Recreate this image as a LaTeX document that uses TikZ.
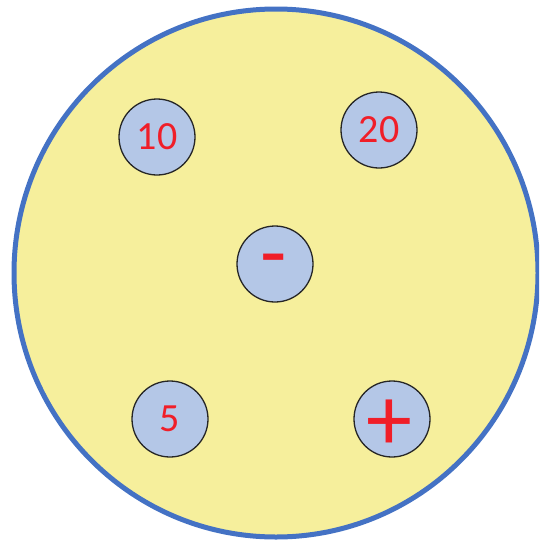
\documentclass[tikz,border=0pt]{standalone}
\usepackage{fontspec}
\setmainfont{Carlito}
\definecolor{diskyellow}{RGB}{246,239,156}
\definecolor{diskblue}{RGB}{68,114,196}
\definecolor{knobfill}{RGB}{180,199,231}
\definecolor{labelred}{RGB}{240,30,40}
\begin{document}
\begin{tikzpicture}[x=1pt,y=-1pt,
  knob/.style={circle,draw=black!85,line width=1.3pt,fill=knobfill,minimum size=76pt,inner sep=0pt},
  num/.style={text=labelred,font=\fontsize{40}{40}\selectfont},
  signm/.style={text=labelred,font=\fontsize{86}{86}\selectfont,anchor=base,inner sep=0pt},
  signp/.style={text=labelred,font=\fontsize{92}{92}\selectfont,anchor=base,inner sep=0pt}]
\useasboundingbox (0,0) rectangle (539,541);
\clip (0,0) rectangle (539,541);
\fill[white] (0,0) rectangle (539,541);
\draw[diskblue,fill=diskyellow,line width=5pt] (276,273) ellipse [x radius=262, y radius=264];
\node[knob] (k10) at (157,137) {};
\node[knob] (k20) at (379,130) {};
\node[knob] (kminus) at (275,264) {};
\node[knob] (k5) at (170,419) {};
\node[knob] (kplus) at (392,419) {};
\node[num] (t10) at (k10) {10};
\node[num] (t20) at (k20) {20};
\node[num] (t5) at (k5) {5};
\node[signm] (tminus) at (274,281) {-};
\node[signp] (tplus) at (389,450) {+};
\end{tikzpicture}
\end{document}
